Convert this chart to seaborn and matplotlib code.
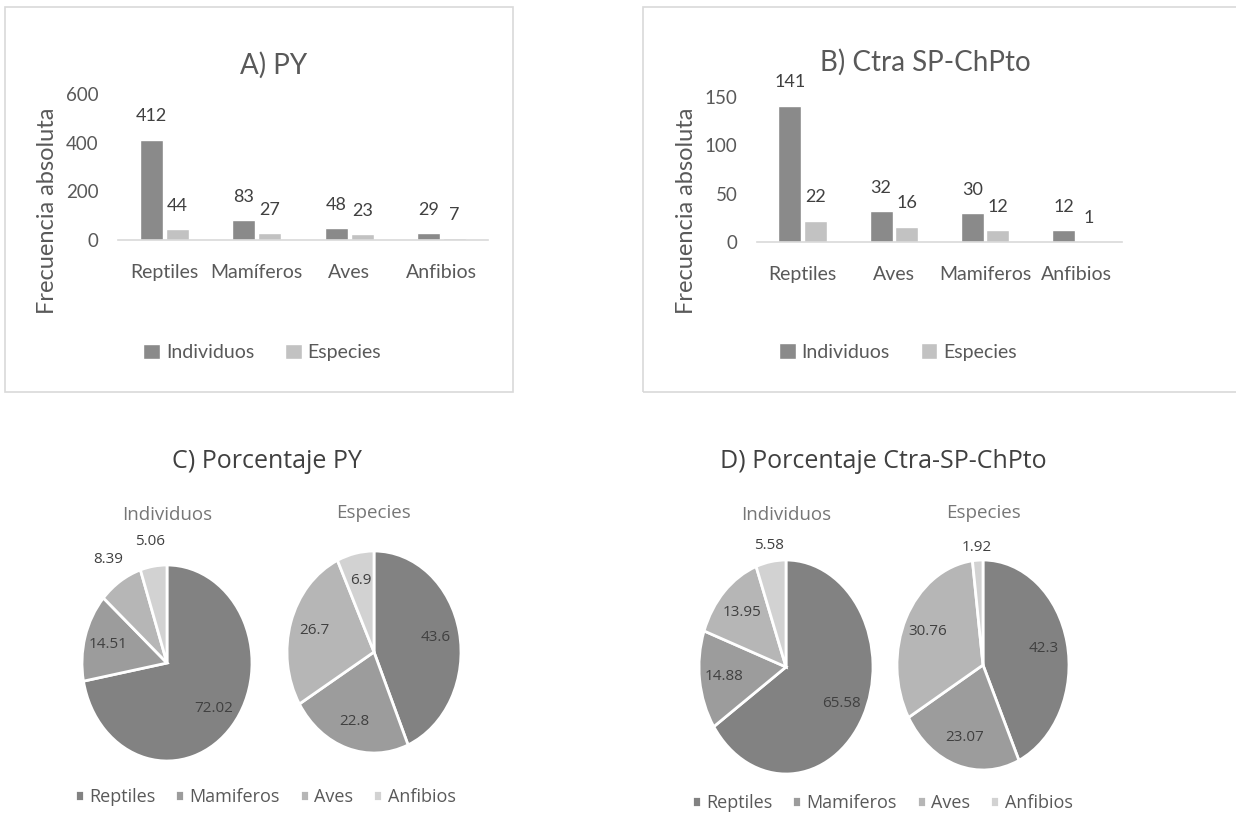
import numpy as np
import pandas as pd
import matplotlib
matplotlib.use("Agg")
import matplotlib.pyplot as plt
from matplotlib.patches import Rectangle
import seaborn as sns

#%% data
cats_a = ['Reptiles', 'Mamíferos', 'Aves', 'Anfibios']
indiv_a = [412, 83, 48, 29]
espec_a = [44, 27, 23, 7]

cats_b = ['Reptiles', 'Aves', 'Mamiferos', 'Anfibios']
indiv_b = [141, 32, 30, 12]
espec_b = [22, 16, 12, 1]

series = ['Individuos', 'Especies']

pie_groups = ['Reptiles', 'Mamiferos', 'Aves', 'Anfibios']
pct_c_indiv = [72.02, 14.51, 8.39, 5.06]
pct_c_espec = [43.6, 22.8, 26.7, 6.9]
pct_d_indiv = [65.58, 14.88, 13.95, 5.58]
pct_d_espec = [42.3, 23.07, 30.76, 1.92]

#%% style
sns.set_theme(style='white')
plt.rcParams['font.family'] = ['Lato', 'DejaVu Sans']
W, H = 1236, 816
txt = '#595959'
bar_cols = ['#8a8a8a', '#c2c2c2']
pie_cols = ['#828282', '#9c9c9c', '#b6b6b6', '#d2d2d2']

fig = plt.figure(figsize=(W / 100, H / 100), dpi=100)


def px_axes(x0, y0, x1, y1):
    # pixel box (top-left origin) -> figure axes
    return fig.add_axes([x0 / W, 1 - y1 / H, (x1 - x0) / W, (y1 - y0) / H])


def border(x0, y0, x1, y1):
    fig.add_artist(Rectangle((x0 / W, 1 - y1 / H), (x1 - x0) / W, (y1 - y0) / H,
                             transform=fig.transFigure, fill=False,
                             edgecolor='#d9d9d9', lw=1.2))


def bar_panel(box, cats, indiv, espec, ymax, step, title, title_xy, ylab_xy, leg_xy):
    ax = px_axes(*box)
    df = pd.DataFrame({'cat': cats * 2,
                       'serie': [series[0]] * len(cats) + [series[1]] * len(cats),
                       'val': indiv + espec})
    sns.barplot(data=df, x='cat', y='val', hue='serie', palette=bar_cols,
                saturation=1, width=0.56, gap=0.1, errorbar=None, ax=ax)
    for c in ax.containers:
        ax.bar_label(c, padding=11, fontsize=13, color='#404040')
    ax.set_ylim(0, ymax)
    ax.set_yticks(np.arange(0, ymax + 1, step))
    ax.set_xlabel('')
    ax.set_ylabel('Frecuencia absoluta', fontsize=17, color=txt)
    ax.yaxis.set_label_coords(*ylab_xy)
    ax.tick_params(axis='both', length=0, labelsize=13.5, colors=txt)
    ax.tick_params(axis='x', pad=17, labelsize=14)
    ax.tick_params(axis='y', pad=14)
    for s in ['left', 'right', 'top']:
        ax.spines[s].set_visible(False)
    ax.spines['bottom'].set_color('#d9d9d9')
    ax.spines['bottom'].set_linewidth(1.2)
    ax.set_title(title, x=title_xy[0], y=title_xy[1], va='center', pad=0,
                 fontsize=20, color=txt)
    h, l = ax.get_legend_handles_labels()
    ax.legend(h, l, loc='center', bbox_to_anchor=leg_xy, ncol=2, frameon=False,
              fontsize=14, labelcolor=txt, handlelength=0.85, handleheight=0.85,
              handletextpad=0.3, columnspacing=1.6)
    return ax


border(5, 7, 513, 392)
bar_panel((118, 94, 488, 240), cats_a, indiv_a, espec_a, 600, 200, 'A) PY',
          (0.42, 1.2), (-0.162, 0.2), (0.39, -0.77))

border(643, 7, 1240, 392)
bar_panel((757, 97, 1122, 242), cats_b, indiv_b, espec_b, 150, 50, 'B) Ctra SP-ChPto',
          (0.46, 1.24), (-0.164, 0.214), (0.386, -0.76))


def pie(cx, cy, rx, ry, vals, sub, sub_y, outside, r_out=1.2):
    k = 1.4
    ax = px_axes(cx - k * rx, cy - k * ry, cx + k * rx, cy + k * ry)
    wedges, _ = ax.pie(vals, colors=pie_cols, startangle=90, counterclock=False,
                       wedgeprops=dict(edgecolor='white', linewidth=2))
    ax.set_aspect('auto')
    ax.set_xlim(-k, k)
    ax.set_ylim(-k, k)
    for i, (w, v) in enumerate(zip(wedges, vals)):
        ang = np.deg2rad((w.theta1 + w.theta2) / 2)
        r = r_out if i in outside else 0.72
        ax.text(r * np.cos(ang), r * np.sin(ang), str(v), ha='center', va='center',
                fontsize=11, color='#404040', family='Open Sans')
    fig.text(cx / W, 1 - sub_y / H, sub, ha='center', va='center', fontsize=13.5,
             color='#767676', family='Open Sans')
    return wedges


# C) PY
wc = pie(167, 663, 85, 98, pct_c_indiv, 'Individuos', 515, (2, 3), 1.26)
pie(374, 652, 87, 101, pct_c_espec, 'Especies', 513, ())
fig.text(267 / W, 1 - 462 / H, 'C) Porcentaje PY', ha='center', va='center',
         fontsize=18, color='#404040', family='Open Sans')
fig.legend(wc, pie_groups, loc='center', bbox_to_anchor=(265 / W, 1 - 797 / H),
           ncol=4, frameon=False, labelcolor=txt,
           prop={'family': 'Open Sans', 'size': 13},
           handlelength=0.5, handleheight=0.5, handletextpad=0.3, columnspacing=1.1)

# D) Ctra-SP-ChPto
wd = pie(786, 667, 87, 107, pct_d_indiv, 'Individuos', 515, (3,), 1.15)
pie(983, 665, 86, 105, pct_d_espec, 'Especies', 513, (3,), 1.12)
fig.text(883 / W, 1 - 462 / H, 'D) Porcentaje Ctra-SP-ChPto', ha='center', va='center',
         fontsize=18, color='#404040', family='Open Sans')
fig.legend(wd, pie_groups, loc='center', bbox_to_anchor=(882 / W, 1 - 803 / H),
           ncol=4, frameon=False, labelcolor=txt,
           prop={'family': 'Open Sans', 'size': 13},
           handlelength=0.5, handleheight=0.5, handletextpad=0.3, columnspacing=1.1)

fig.savefig('out.png', dpi=100)
